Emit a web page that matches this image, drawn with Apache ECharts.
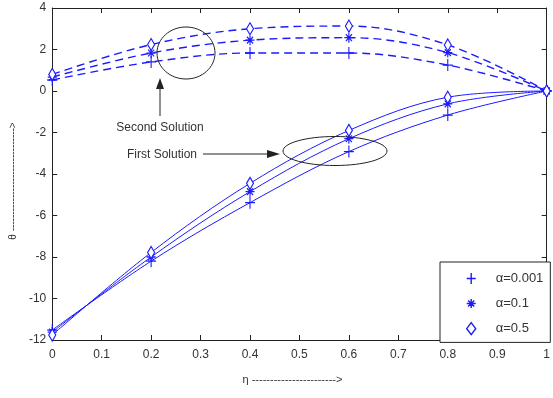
<!DOCTYPE html>
<html><head><meta charset="utf-8">
<script src="https://cdn.jsdelivr.net/npm/echarts@6/dist/echarts.min.js"></script>
<style>html,body{margin:0;padding:0;background:#fff}#c{width:553px;height:398px}</style>
</head><body><div id="c"></div>
<script>
const eta = [0, 0.2, 0.4, 0.6, 0.8, 1.0];
const alphaNames = ['α=0.001', 'α=0.1', 'α=0.5'];
// Second solution (dashed)
const second_a0001 = [0.53, 1.40, 1.83, 1.83, 1.25, 0];
const second_a01   = [0.67, 1.83, 2.45, 2.57, 1.85, 0];
const second_a05   = [0.80, 2.24, 3.00, 3.13, 2.22, 0];
// First solution (solid)
const first_a0001 = [-11.52, -8.20, -5.38, -2.92, -1.16, 0];
const first_a01   = [-11.62, -8.00, -4.85, -2.30, -0.62, 0];
const first_a05   = [-11.76, -7.78, -4.45, -1.90, -0.30, 0];
const yTicks = [-12, -10, -8, -6, -4, -2, 0, 2, 4];

const BLUE = '#1a1aff';
const PLUS = 'path://M5,0L5,12M0,6L10,6';
const STAR = 'path://M5,0L5,10M0,5L10,5M1.6,1.6L8.4,8.4M1.6,8.4L8.4,1.6';
const symbols = [PLUS, STAR, 'diamond'];
const sizes = [[10, 12], [9, 10], [7, 12]];

function pairs(v){ return eta.map((x,i)=>[x, v[i]]); }
function mk(name, vals, k, dashed){
  return {
    name: name, type: 'line', data: pairs(vals), smooth: 0.35,
    symbol: symbols[k], symbolSize: sizes[k], showAllSymbol: true,
    lineStyle: {color: BLUE, width: dashed ? 1.4 : 1, type: dashed ? [8, 5] : 'solid'},
    itemStyle: {color: k === 2 ? '#fff' : 'rgba(0,0,0,0)', borderColor: BLUE, borderWidth: 1.2},
    emphasis: {disabled: true}, z: 3
  };
}
const series = [
  mk(alphaNames[0], second_a0001, 0, true),
  mk(alphaNames[1], second_a01, 1, true),
  mk(alphaNames[2], second_a05, 2, true),
  mk(alphaNames[0], first_a0001, 0, false),
  mk(alphaNames[1], first_a01, 1, false),
  mk(alphaNames[2], first_a05, 2, false)
];

const AX = '#222';
const LBL = {color: '#333', fontFamily: 'Liberation Sans, Arial', fontSize: 12};
const chart = echarts.init(document.getElementById('c'), null, {renderer: 'canvas'});
chart.setOption({
  animation: false,
  grid: {left: 48, right: 4, top: 8, bottom: 58},
  xAxis: [{
    type: 'value', min: 0, max: 1, interval: 0.1, position: 'bottom',
    axisLine: {show: true, onZero: false, lineStyle: {color: AX, width: 1}},
    axisTick: {show: true, inside: true, length: 5, lineStyle: {color: AX}},
    splitLine: {show: false},
    axisLabel: Object.assign({margin: 9, formatter: v => String(+v.toFixed(1))}, LBL),
    name: 'η ----------------------->', nameLocation: 'middle', nameGap: 34,
    nameTextStyle: {color: '#333', fontFamily: 'Liberation Sans, Arial', fontSize: 11, padding: [0, 14, 0, 0]}
  }, {
    type: 'value', min: 0, max: 1, interval: 0.1, position: 'top',
    axisLine: {show: true, onZero: false, lineStyle: {color: AX}},
    axisTick: {show: true, inside: true, length: 5, lineStyle: {color: AX}},
    axisLabel: {show: false}, splitLine: {show: false}
  }],
  yAxis: [{
    type: 'value', min: -12, max: 4, interval: 2, position: 'left',
    axisLine: {show: true, onZero: false, lineStyle: {color: AX, width: 1}},
    axisTick: {show: true, inside: true, length: 5, lineStyle: {color: AX}},
    splitLine: {show: false},
    axisLabel: Object.assign({margin: 6}, LBL),
    name: 'θ ------------------------------->', nameLocation: 'middle', nameGap: 30, nameRotate: 90,
    nameTextStyle: {color: '#333', fontFamily: 'Liberation Sans, Arial', fontSize: 10, padding: [0, 14, 0, 0]}
  }, {
    type: 'value', min: -12, max: 4, interval: 2, position: 'right',
    axisLine: {show: true, onZero: false, lineStyle: {color: AX}},
    axisTick: {show: true, inside: true, length: 5, lineStyle: {color: AX}},
    axisLabel: {show: false}, splitLine: {show: false}
  }],
  legend: {
    orient: 'vertical', left: 440, top: 262,
    padding: [10, 7, 7, 26], itemGap: 12, itemWidth: 9, itemHeight: 12,
    borderColor: '#222', borderWidth: 1, backgroundColor: '#fff',
    selectedMode: false,
    textStyle: {color: '#333', fontFamily: 'Liberation Sans, Arial', fontSize: 13, padding: [0, 0, 0, 15]},
    data: alphaNames.map((n, k) => ({
      name: n, icon: symbols[k],
      itemStyle: {color: k === 2 ? '#fff' : 'rgba(0,0,0,0)', borderColor: BLUE, borderWidth: 1.4},
      lineStyle: {opacity: 0}
    }))
  },
  series: series,
  graphic: [
    {type: 'ellipse', shape: {cx: 186, cy: 53, rx: 29, ry: 26}, style: {fill: 'none', stroke: '#222', lineWidth: 1}, z: 10},
    {type: 'line', shape: {x1: 160, y1: 116, x2: 160, y2: 82}, style: {stroke: '#222', lineWidth: 1}, z: 10},
    {type: 'polygon', shape: {points: [[160, 78], [156, 89], [164, 89]]}, style: {fill: '#222'}, z: 10},
    {type: 'text', x: 160, y: 128, style: {text: 'Second Solution', fill: '#333', font: '12px Liberation Sans, Arial', align: 'center', verticalAlign: 'middle'}, z: 10},
    {type: 'text', x: 162, y: 155, style: {text: 'First Solution', fill: '#333', font: '12px Liberation Sans, Arial', align: 'center', verticalAlign: 'middle'}, z: 10},
    {type: 'line', shape: {x1: 203, y1: 154, x2: 268, y2: 154}, style: {stroke: '#222', lineWidth: 1}, z: 10},
    {type: 'polygon', shape: {points: [[280, 154], [267, 150], [267, 158]]}, style: {fill: '#222'}, z: 10},
    {type: 'ellipse', shape: {cx: 335, cy: 151, rx: 52, ry: 14.5}, style: {fill: 'none', stroke: '#222', lineWidth: 1}, z: 10}
  ]
});
</script>
</body></html>
